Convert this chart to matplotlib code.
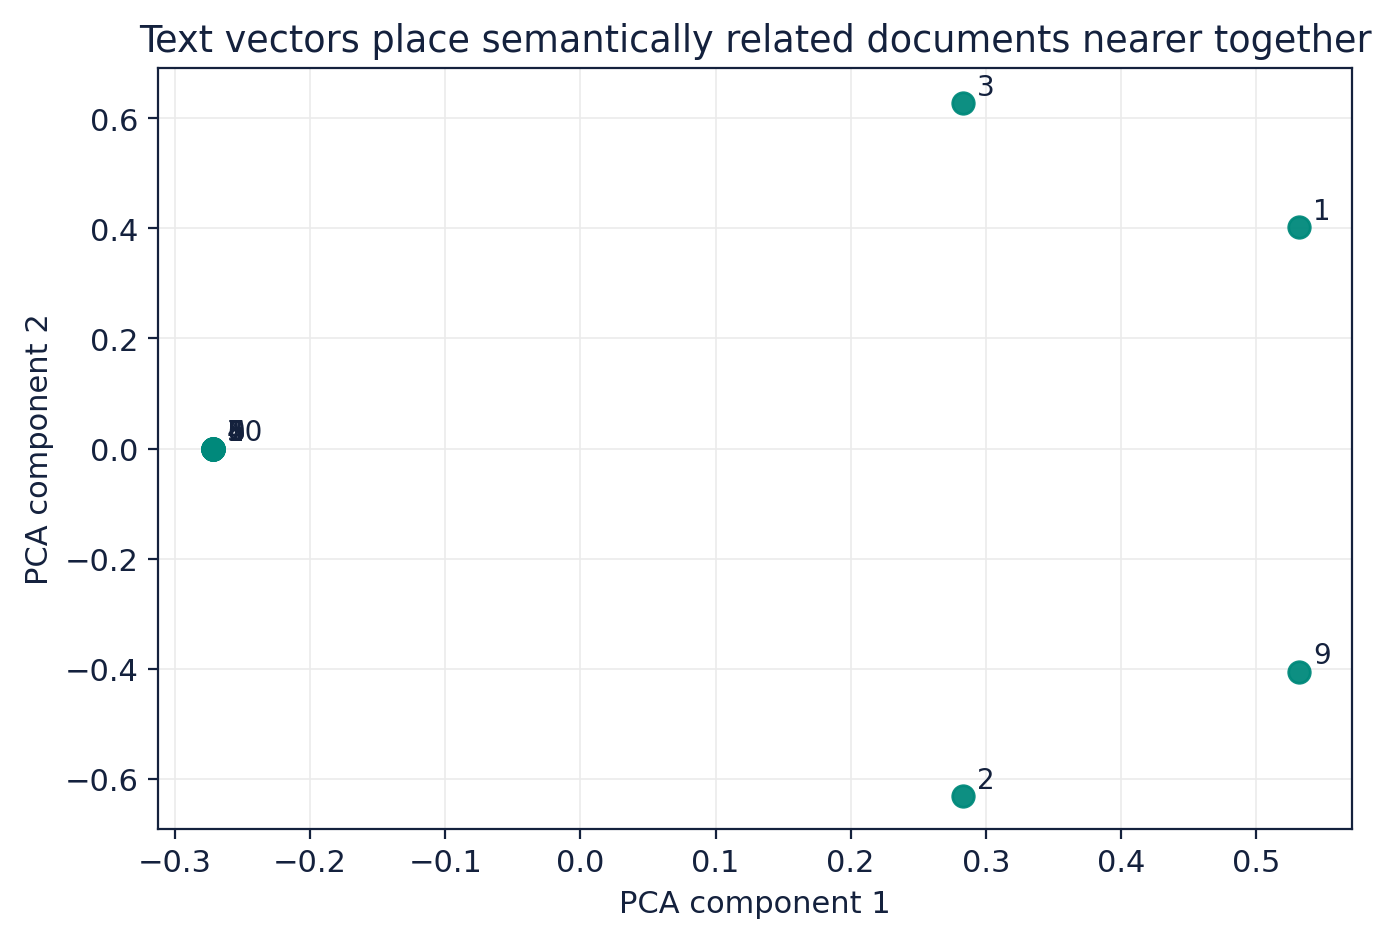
import numpy as np
import matplotlib
matplotlib.use("Agg")
import matplotlib.pyplot as plt

# PCA projection of the document vectors
doc_ids = [0, 1, 2, 3, 4, 5, 6, 7, 8, 9, 10]
pc1 = [-0.272, 0.532, 0.283, 0.283, -0.272, -0.272, -0.272, -0.272, -0.272, 0.532, -0.272]
pc2 = [0.0, 0.402, -0.631, 0.627, 0.0, 0.0, 0.0, 0.0, 0.0, -0.405, 0.0]

ink = "#14213d"
teal = "#00897b"

plt.rcParams['font.family'] = ['DejaVu Sans']
plt.rcParams['text.color'] = ink
plt.rcParams['axes.labelcolor'] = ink
plt.rcParams['xtick.color'] = ink
plt.rcParams['ytick.color'] = ink

fig, ax = plt.subplots(figsize=(6.965, 4.725), dpi=200)
fig.subplots_adjust(left=158/1393, right=1352/1393, top=1-69/945, bottom=1-830/945)

ax.scatter(pc1, pc2, s=60, color=teal, alpha=0.95, zorder=3)
for i, x, y in zip(doc_ids, pc1, pc2):
    ax.annotate(str(i), (x, y), xytext=(5, 3), textcoords="offset points",
                fontsize=10, color=ink, zorder=4)

ax.set_xlim(-0.3126, 0.571)
ax.set_ylim(-0.691, 0.691)
ax.grid(True, color="#ebebeb", linewidth=0.6, zorder=0)
ax.set_axisbelow(True)
for sp in ax.spines.values():
    sp.set_color(ink)
    sp.set_linewidth(0.8)

ax.set_title("Text vectors place semantically related documents nearer together", fontsize=13.2)
ax.set_xlabel("PCA component 1", fontsize=11)
ax.set_ylabel("PCA component 2", fontsize=11)
ax.tick_params(labelsize=11)

fig.savefig("out.png", dpi=200)
